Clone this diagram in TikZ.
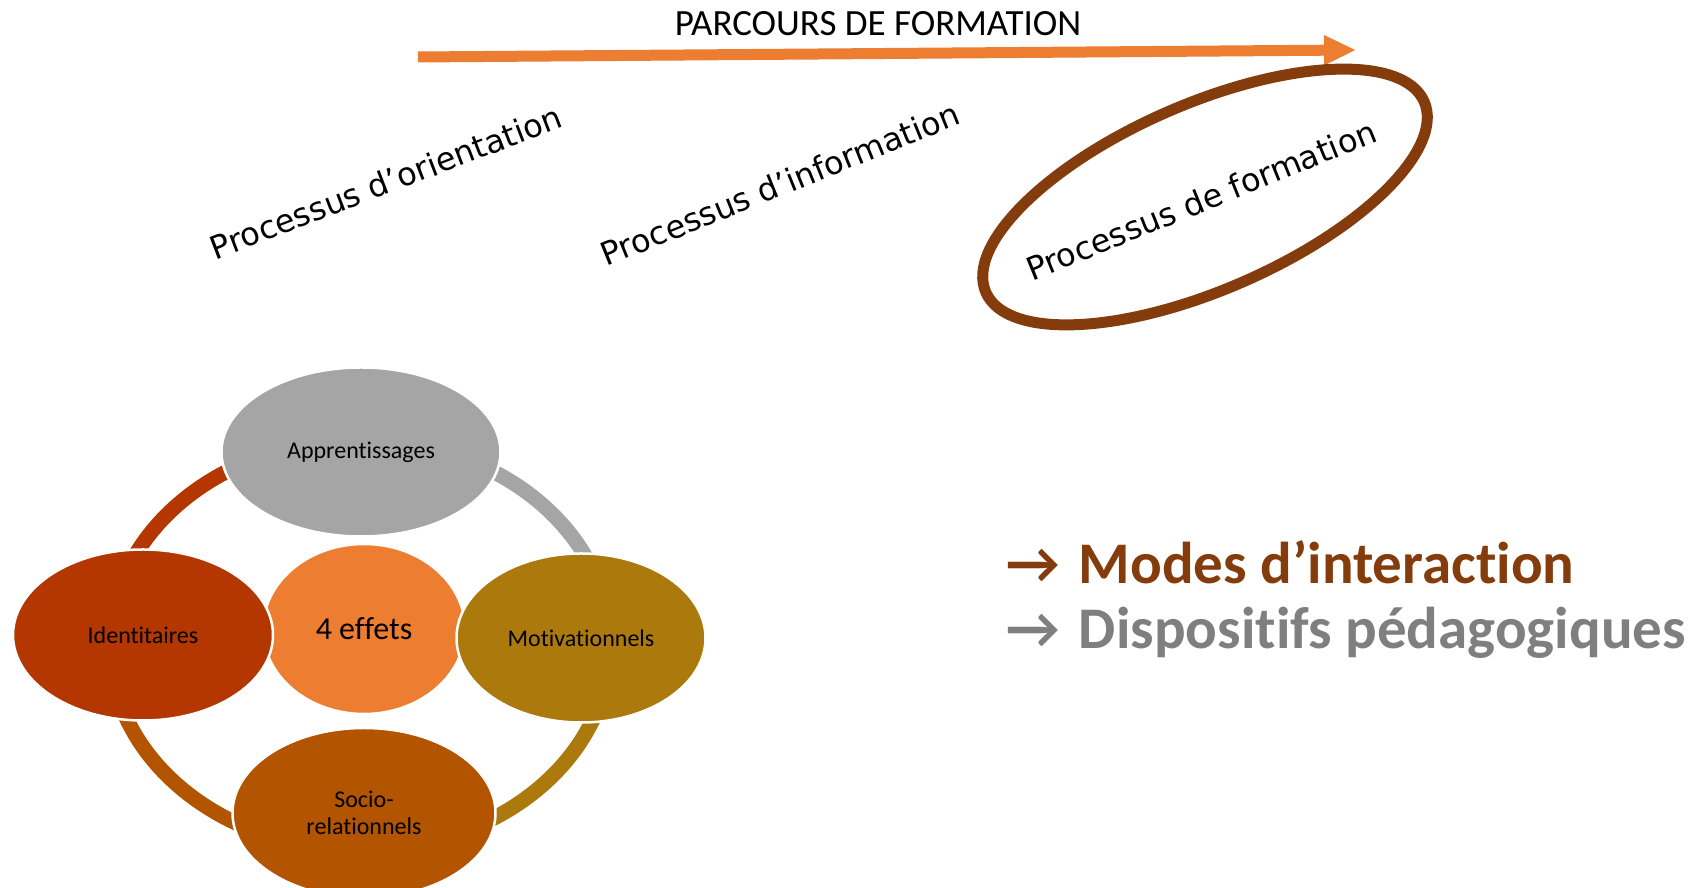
\documentclass[tikz,border=0pt]{standalone}
\usepackage{fontspec}
\setmainfont{Carlito}[Ligatures=NoCommon]
\newfontfamily\procfont{DejaVu Sans}
\usetikzlibrary{shapes,arrows.meta}
\definecolor{orangeA}{RGB}{237,125,49}
\definecolor{brownA}{RGB}{132,60,12}
\definecolor{grayA}{RGB}{165,165,165}
\definecolor{grayB}{RGB}{127,127,127}
\definecolor{redA}{RGB}{180,54,0}
\definecolor{goldA}{RGB}{172,122,12}
\definecolor{rustA}{RGB}{178,84,0}

\begin{document}
\begin{tikzpicture}[x=1pt,y=1pt]
\tikzstyle{effect}=[ellipse,draw=white,line width=2.5pt,inner sep=0pt,align=center,font=\fontsize{24}{27}\selectfont]
\tikzstyle{proc}=[inner sep=0pt,font=\procfont\fontsize{32}{38}\selectfont]
\tikzstyle{ring}=[line width=15pt]
\tikzstyle{mode}=[anchor=base west,inner sep=0pt,font=\bfseries\fontsize{59}{70}\selectfont]
\useasboundingbox (0,0) rectangle (1697,888);
\clip (0,0) rectangle (1697,888);

\node[font=\fontsize{37}{44}\selectfont] (title) at (878,864) {PARCOURS DE FORMATION};
\coordinate (p0) at (418,831);
\coordinate (p1) at (1356,838);
\draw[-{Triangle[length=32pt,width=28pt]},line width=11pt,orangeA] (p0) -- (p1);

\node[proc,rotate=21] (ori) at (386,706) {Processus d’orientation};
\node[proc,rotate=22] (inf) at (780,704) {Processus d’information};
\node[proc,rotate=22] (form) at (1201,688) {Processus de formation};
\draw[brownA,line width=11pt,rotate around={23.5:(1205,691)}] (1205,691) ellipse (239 and 93);

\coordinate (cyc) at (360,243);
\draw[ring,redA] (cyc) ++(180:250 and 205) arc[start angle=180,end angle=90,x radius=250,y radius=205];
\draw[ring,grayA] (cyc) ++(90:250 and 205) arc[start angle=90,end angle=0,x radius=250,y radius=205];
\draw[ring,goldA] (cyc) ++(0:250 and 205) arc[start angle=0,end angle=-90,x radius=250,y radius=205];
\draw[ring,rustA] (cyc) ++(-90:250 and 205) arc[start angle=-90,end angle=-180,x radius=250,y radius=205];

\node[effect,fill=orangeA,minimum width=202pt,minimum height=170pt,font=\fontsize{32}{36}\selectfont] (eff) at (364,259) {4 effets};
\node[effect,fill=grayA,minimum width=279pt,minimum height=169pt] (app) at (361,436) {Apprentissages};
\node[effect,fill=redA,minimum width=260pt,minimum height=171pt] (ide) at (143,253) {Identitaires};
\node[effect,fill=goldA,minimum width=249pt,minimum height=169pt] (mot) at (581,250) {Motivationnels};
\node[effect,fill=rustA,minimum width=263pt,minimum height=170pt] (soc) at (364,75) {Socio-\\relationnels};

\node[mode,text=brownA] (modes) at (1006,304) {→\hspace{6pt} Modes d’interaction};
\node[mode,text=grayB] (disp) at (1006,239) {→\hspace{6pt} Dispositifs pédagogiques};
\end{tikzpicture}
\end{document}
